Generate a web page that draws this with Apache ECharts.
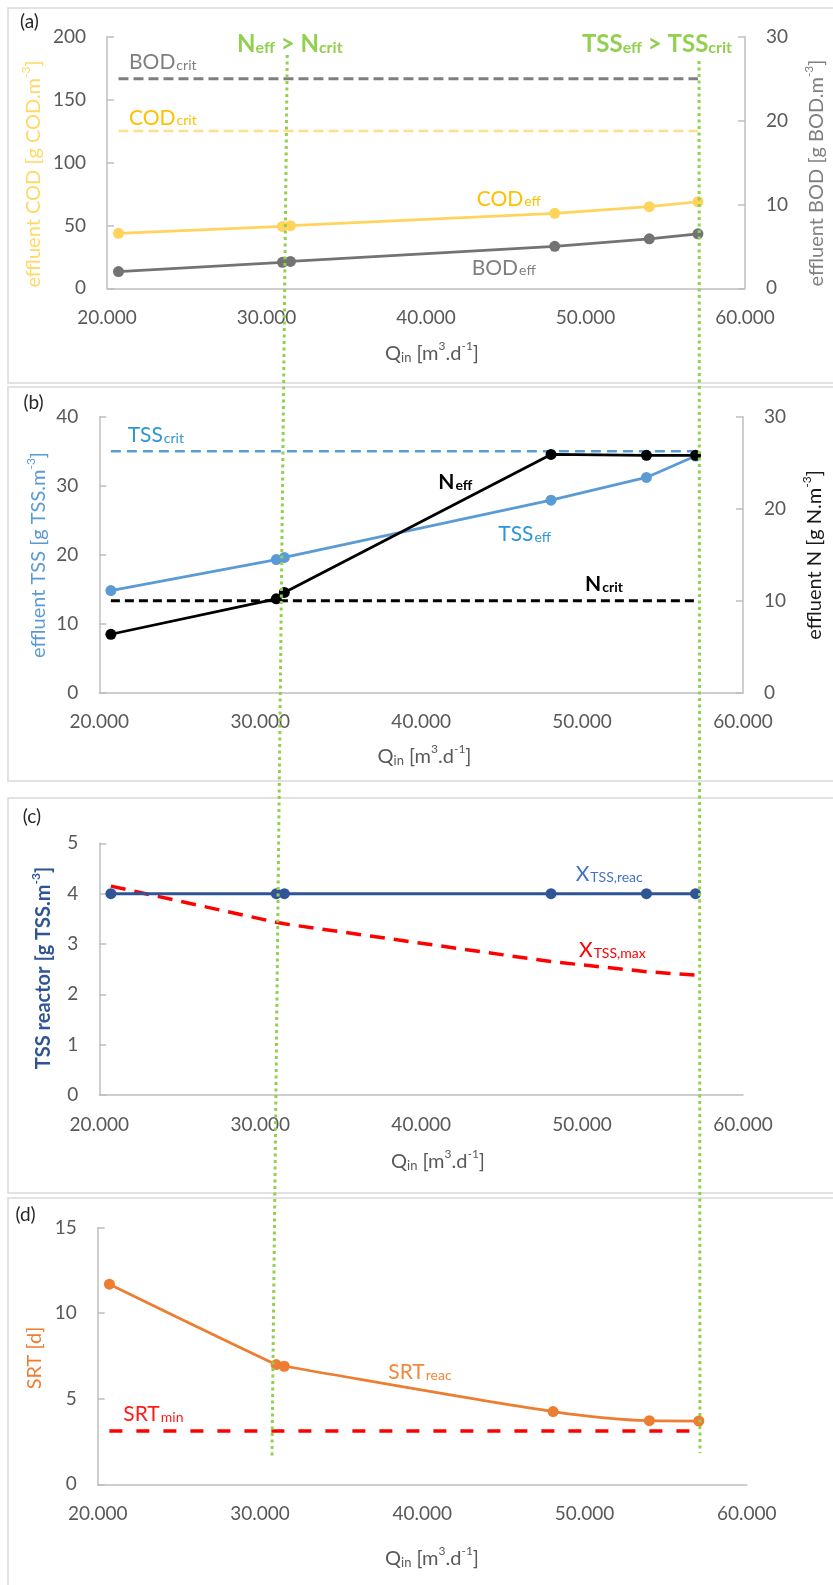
<!DOCTYPE html>
<html><head><meta charset="utf-8">
<script src="https://cdn.jsdelivr.net/npm/echarts@6/dist/echarts.min.js"></script>
<style>html,body{margin:0;padding:0;background:#fff}#c{width:833px;height:1585px}</style>
</head><body><div id="c"></div>
<script>
// ---------------- data ----------------
const Q        = [20720, 31000, 31500, 48070, 54000, 57050];   // Qin [m3/d]
const codEff   = [43.7, 49.2, 49.8, 59.6, 64.9, 68.8];
const codCrit  = [125, 125, 125, 125, 125, 125];
const bodEff   = [2.0, 3.1, 3.2, 5.0, 5.9, 6.5];
const bodCrit  = [25, 25, 25, 25, 25, 25];
const tssEff   = [14.8, 19.3, 19.6, 27.9, 31.2, 34.3];
const tssCrit  = [35, 35, 35, 35, 35, 35];
const nEff     = [6.35, 10.2, 10.9, 25.9, 25.8, 25.8];
const nCrit    = [10, 10, 10, 10, 10, 10];
const xReac    = [4, 4, 4, 4, 4, 4];
const xMax     = [4.15, 3.43, 3.40, 2.65, 2.45, 2.38];
const srtReac  = [11.7, 7.0, 6.9, 4.25, 3.72, 3.70];
const srtMin   = [3.12, 3.12, 3.12, 3.12, 3.12, 3.12];
const nExceedQ   = [31300, 30740];   // boundary marker (top panel, bottom panel)
const tssExceedQ = [57120, 57120];
const xTicks = [20000, 30000, 40000, 50000, 60000];

// ---------------- styling ----------------
const FONT = 'Lato, "Open Sans", sans-serif';
const AX = '#BFBFBF', TXT = '#595959';

function xAxis(gi) {
  return {type: 'value', gridIndex: gi, min: xTicks[0], max: xTicks[xTicks.length - 1], interval: xTicks[1] - xTicks[0],
    axisLine: {show: true, onZero: false, lineStyle: {color: AX, width: 1.5}},
    axisTick: {show: false}, splitLine: {show: false},
    axisLabel: {color: TXT, fontSize: 19, fontFamily: FONT, margin: 20,
      formatter: v => (v / 1000) + '.000'}};
}
function yAxis(gi, min, max, interval, pos) {
  return {type: 'value', gridIndex: gi, position: pos, min, max, interval,
    axisLine: {show: true, onZero: false, lineStyle: {color: AX, width: 1.5}},
    axisTick: {show: true, inside: true, length: 7, lineStyle: {color: AX, width: 1.5}},
    splitLine: {show: false},
    axisLabel: {color: TXT, fontSize: 19, fontFamily: FONT, margin: 21}};
}
function pts(ys) { return Q.map((q, i) => [q, ys[i]]); }
function dataLine(gi, yi, ys, color, extra) {
  return Object.assign({type: 'line', xAxisIndex: gi, yAxisIndex: yi, data: pts(ys),
    symbol: 'circle', symbolSize: 11, showSymbol: true, animation: false,
    lineStyle: {color, width: 2.75}, itemStyle: {color}, z: 3}, extra || {});
}
function critLine(gi, yi, ys, color, dash, width) {
  return {type: 'line', xAxisIndex: gi, yAxisIndex: yi, data: pts(ys), showSymbol: false,
    symbol: 'none', animation: false, lineStyle: {color, width: width || 3, type: dash}, z: 2};
}

const grids = [
  {left: 107, top: 36.7, width: 638, height: 251.6},
  {left: 99.3, top: 416.7, width: 643.7, height: 276},
  {left: 99.3, top: 843.3, width: 643.7, height: 251.7},
  {left: 97.7, top: 1227.7, width: 649, height: 256.6}
].map(g => Object.assign(g, {containLabel: false, outerBoundsMode: 'none'}));

const option = {
  backgroundColor: '#fff',
  animation: false,
  grid: grids,
  xAxis: [xAxis(0), xAxis(1), xAxis(2), xAxis(3)],
  yAxis: [
    yAxis(0, 0, 200, 50, 'left'), yAxis(0, 0, 30, 10, 'right'),
    yAxis(1, 0, 40, 10, 'left'), yAxis(1, 0, 30, 10, 'right'),
    yAxis(2, 0, 5, 1, 'left'),
    yAxis(3, 0, 15, 5, 'left')
  ],
  series: [
    critLine(0, 1, bodCrit, '#7F7F7F', [10, 5], 3),
    critLine(0, 0, codCrit, '#FFE08A', [10, 5], 2.5),
    dataLine(0, 0, codEff, '#FFD35C'),
    dataLine(0, 1, bodEff, '#737373'),
    critLine(1, 2, tssCrit, '#5B9BD5', [10, 6], 2.5),
    critLine(1, 3, nCrit, '#000000', [9, 5], 3),
    dataLine(1, 2, tssEff, '#5B9BD5'),
    dataLine(1, 3, nEff, '#000000'),
    dataLine(2, 4, xReac, '#2F5597', {lineStyle: {color: '#2F5597', width: 3}}),
    critLine(2, 4, xMax, '#FF0000', [15, 9], 3.5),
    critLine(3, 5, srtMin, '#FF0000', [13, 14], 3.5),
    dataLine(3, 5, srtReac, '#ED7D31', {smooth: 0.3})
  ]
};

const chart = echarts.init(document.getElementById('c'), null, {renderer: 'canvas'});
chart.setOption(option);

// ---------------- annotations ----------------
function rt(x, y, text, rich, extra) {
  return Object.assign({type: 'text', x, y, z: 50, silent: true,
    style: {text, align: 'left', verticalAlign: 'middle', rich}}, extra || {});
}
function subLabel(x, y, main, sub, color, bold, size, subSize) {
  const w = bold ? 'bold' : 'normal';
  return rt(x, y, `{m|${main}}{s|${sub}}`, {
    m: {fontSize: size || 21, fontFamily: FONT, fontWeight: w, fill: color, lineHeight: 24, verticalAlign: 'bottom'},
    s: {fontSize: subSize || 14, fontFamily: FONT, fontWeight: w, fill: color, lineHeight: 14, verticalAlign: 'bottom', padding: [0, 0, 1, 1]}
  });
}
function axName(x, y, parts, color, bold, rotate) {
  const w = bold ? 'bold' : 'normal';
  const el = rt(x, y, parts, {
    t: {fontSize: 20, fontFamily: FONT, fontWeight: w, fill: color, lineHeight: 24, verticalAlign: 'bottom'},
    sup: {fontSize: 12, fontFamily: FONT, fontWeight: w, fill: color, lineHeight: 24, verticalAlign: 'top', padding: [0, 0, 8, 0]},
    sub: {fontSize: 13, fontFamily: FONT, fontWeight: w, fill: color, lineHeight: 14, verticalAlign: 'bottom'}
  });
  el.style.align = 'center';
  if (rotate) el.rotation = Math.PI / 2;
  return el;
}
function panelLabel(x, y, t) {
  return {type: 'text', x, y, z: 50, style: {text: t, fontSize: 19, fontFamily: FONT, fill: '#262626', align: 'center', verticalAlign: 'middle'}};
}
function panelRect(y, h) {
  return {type: 'rect', z: 0, silent: true, shape: {x: 8, y, width: 840, height: h},
    style: {fill: 'none', stroke: '#D9D9D9', lineWidth: 1.5}};
}
const qName = '{t|Q}{sub|in}{t| [m}{sup|3}{t|.d}{sup|-1}{t|]}';
const G = '#92D050';

const px = (axis, v) => chart.convertToPixel({xAxisIndex: axis}, v);
function greenLine(xTop, yTop, xBot, yBot) {
  return {type: 'line', z: 100, silent: true, shape: {x1: xTop, y1: yTop, x2: xBot, y2: yBot},
    style: {stroke: G, lineWidth: 3, lineDash: [3, 3.5]}};
}

const graphics = [
  panelRect(8, 375), panelRect(387, 394), panelRect(798, 395), panelRect(1198, 420),
  panelLabel(29.5, 22, '(a)'), panelLabel(33.5, 403, '(b)'), panelLabel(32, 817, '(c)'), panelLabel(25.5, 1215, '(d)'),
  // axis names
  axName(32, 174, '{t|effluent COD [g COD.m}{sup|-3}{t|]}', '#FFD966', false, true),
  axName(815, 173, '{t|effluent BOD [g BOD.m}{sup|-3}{t|]}', '#808080', false, true),
  axName(37, 555, '{t|effluent TSS [g TSS.m}{sup|-3}{t|]}', '#5B9BD5', false, true),
  axName(813, 555, '{t|effluent N [g N.m}{sup|-3}{t|]}', '#1A1A1A', false, true),
  axName(42, 968, '{t|TSS reactor [g TSS.m}{sup|-3}{t|]}', '#2F5597', true, true),
  axName(33, 1358, '{t|SRT [d]}', '#ED7D31', false, true),
  axName(432, 352, qName, TXT, false, false),
  axName(424.5, 755, qName, TXT, false, false),
  axName(438, 1160, qName, TXT, false, false),
  axName(432, 1557, qName, TXT, false, false),
  // panel a
  subLabel(129, 61, 'BOD', 'crit', '#7F7F7F'),
  subLabel(129, 116.5, 'COD', 'crit', '#FFC000'),
  subLabel(476.7, 197.5, 'COD', 'eff', '#FFC000'),
  subLabel(471.7, 266.5, 'BOD', 'eff', '#7F7F7F'),
  rt(237, 43, '{m|N}{s|eff}{m| > N}{s|crit}', {
    m: {fontSize: 24, fontFamily: FONT, fontWeight: 'bold', fill: G, lineHeight: 26, verticalAlign: 'bottom'},
    s: {fontSize: 16, fontFamily: FONT, fontWeight: 'bold', fill: G, lineHeight: 16, verticalAlign: 'bottom'}}),
  rt(582, 43, '{m|TSS}{s|eff}{m| > TSS}{s|crit}', {
    m: {fontSize: 24, fontFamily: FONT, fontWeight: 'bold', fill: G, lineHeight: 26, verticalAlign: 'bottom'},
    s: {fontSize: 16, fontFamily: FONT, fontWeight: 'bold', fill: G, lineHeight: 16, verticalAlign: 'bottom'}}),
  // panel b
  subLabel(127.7, 434, 'TSS', 'crit', '#2E96D6'),
  subLabel(438.3, 481, 'N', 'eff', '#000000', true),
  subLabel(498.3, 533, 'TSS', 'eff', '#2E96D6'),
  subLabel(585, 583, 'N', 'crit', '#000000', true),
  // panel c
  subLabel(575.7, 873, 'X', 'TSS,reac', '#4472C4'),
  subLabel(579, 949, 'X', 'TSS,max', '#FF0000'),
  // panel d
  subLabel(123.3, 1413, 'SRT', 'min', '#FF1A1A'),
  subLabel(388.3, 1371, 'SRT', 'reac', '#F0883E'),
  // boundary markers
  greenLine(px(0, nExceedQ[0]), 55, px(3, nExceedQ[1]), 1457),
  greenLine(px(0, tssExceedQ[0]), 61, px(3, tssExceedQ[1]), 1453)
];
chart.setOption({graphic: {elements: graphics}});
</script>
</body></html>
